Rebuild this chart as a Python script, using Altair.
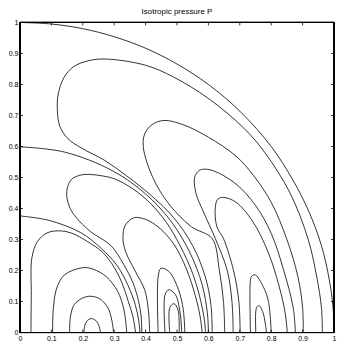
import altair as alt
import pandas as pd

r1_x = [0.0, 0.1, 0.2, 0.3, 0.4, 0.5, 0.6, 0.7, 0.8, 0.87, 0.92, 0.96, 0.985, 0.997, 1.0]
r1_y = [1.0, 0.995, 0.98, 0.954, 0.917, 0.866, 0.8, 0.714, 0.6, 0.49, 0.39, 0.28, 0.17, 0.08, 0.0]

r60_x = [0.0, 0.142, 0.296, 0.40, 0.48, 0.54, 0.58, 0.597, 0.6]
r60_y = [0.599, 0.582, 0.521, 0.447, 0.36, 0.26, 0.155, 0.06, 0.0]

r38_x = [0.0, 0.091, 0.194, 0.26, 0.31, 0.345, 0.367, 0.378, 0.382]
r38_y = [0.376, 0.362, 0.322, 0.27, 0.215, 0.15, 0.09, 0.04, 0.0]

c1_x = [0.204, 0.206, 0.213, 0.227, 0.242, 0.252, 0.256]
c1_y = [0.0, 0.02, 0.037, 0.045, 0.038, 0.02, 0.0]

c2_x = [0.158, 0.161, 0.173, 0.199, 0.226, 0.255, 0.280, 0.293, 0.298]
c2_y = [0.0, 0.053, 0.090, 0.111, 0.117, 0.108, 0.080, 0.037, 0.0]

c3_x = [0.104, 0.106, 0.117, 0.142, 0.199, 0.234, 0.275, 0.311, 0.331, 0.340]
c3_y = [0.0, 0.074, 0.143, 0.186, 0.209, 0.204, 0.180, 0.133, 0.074, 0.0]

c4_x = [0.035, 0.036, 0.038, 0.056, 0.086, 0.122, 0.163, 0.214, 0.265, 0.30, 0.325, 0.345, 0.36, 0.368]
c4_y = [0.0, 0.12, 0.241, 0.294, 0.321, 0.328, 0.321, 0.294, 0.257, 0.21, 0.16, 0.10, 0.05, 0.0]

d1_x = [0.388, 0.386, 0.378, 0.36, 0.33, 0.29, 0.224, 0.18, 0.16, 0.149, 0.152, 0.165, 0.194, 0.213, 0.25, 0.30, 0.36, 0.415, 0.465, 0.51, 0.55, 0.576, 0.588, 0.591]
d1_y = [0.0, 0.05, 0.10, 0.16, 0.22, 0.28, 0.326, 0.37, 0.40, 0.44, 0.47, 0.495, 0.508, 0.51, 0.507, 0.496, 0.463, 0.417, 0.357, 0.28, 0.19, 0.10, 0.035, 0.0]

d2_x = [0.413, 0.41, 0.398, 0.367, 0.336, 0.328, 0.335, 0.362, 0.40, 0.443, 0.49, 0.53, 0.558, 0.574, 0.58]
d2_y = [0.0, 0.06, 0.135, 0.198, 0.262, 0.305, 0.345, 0.37, 0.365, 0.338, 0.285, 0.205, 0.12, 0.05, 0.0]

b1_x = [0.44, 0.44, 0.449, 0.474, 0.505, 0.52, 0.525]
b1_y = [0.0, 0.18, 0.207, 0.197, 0.138, 0.074, 0.0]

b2_x = [0.462, 0.462, 0.474, 0.495, 0.51, 0.515]
b2_y = [0.0, 0.122, 0.138, 0.122, 0.064, 0.0]

b3_x = [0.477, 0.477, 0.49, 0.503, 0.507]
b3_y = [0.0, 0.08, 0.093, 0.074, 0.0]

u1_x = [0.612, 0.608, 0.59, 0.55, 0.49, 0.42, 0.34, 0.27, 0.194, 0.153, 0.127, 0.119, 0.122, 0.14, 0.17, 0.22, 0.275, 0.4, 0.489, 0.6, 0.713, 0.78, 0.86, 0.917, 0.945, 0.96, 0.963]
u1_y = [0.0, 0.09, 0.18, 0.28, 0.37, 0.44, 0.505, 0.555, 0.596, 0.625, 0.665, 0.72, 0.77, 0.822, 0.857, 0.877, 0.882, 0.862, 0.824, 0.755, 0.659, 0.58, 0.45, 0.303, 0.18, 0.08, 0.0]

u2_x = [0.652, 0.648, 0.635, 0.612, 0.546, 0.474, 0.423, 0.393, 0.397, 0.42, 0.459, 0.52, 0.6, 0.688, 0.744, 0.8, 0.85, 0.885, 0.9, 0.902]
u2_y = [0.0, 0.1, 0.2, 0.303, 0.341, 0.415, 0.5, 0.596, 0.64, 0.67, 0.684, 0.67, 0.63, 0.569, 0.506, 0.42, 0.3, 0.18, 0.08, 0.0]

u3_x = [0.679, 0.675, 0.66, 0.622, 0.587, 0.561, 0.556, 0.57, 0.587, 0.62, 0.688, 0.75, 0.8, 0.84, 0.87, 0.877]
u3_y = [0.0, 0.1, 0.2, 0.303, 0.383, 0.447, 0.5, 0.522, 0.527, 0.52, 0.479, 0.41, 0.32, 0.2, 0.08, 0.0]

u4_x = [0.701, 0.697, 0.68, 0.648, 0.627, 0.622, 0.63, 0.648, 0.688, 0.74, 0.79, 0.825, 0.845, 0.851]
u4_y = [0.0, 0.1, 0.2, 0.303, 0.341, 0.404, 0.43, 0.436, 0.42, 0.36, 0.26, 0.15, 0.06, 0.0]

e1_x = [0.734, 0.734, 0.738, 0.749, 0.769, 0.79, 0.80]
e1_y = [0.0, 0.17, 0.182, 0.186, 0.159, 0.106, 0.0]

e2_x = [0.751, 0.751, 0.755, 0.761, 0.774, 0.785]
e2_y = [0.0, 0.069, 0.083, 0.087, 0.064, 0.0]

tick_vals = [0.0, 0.1, 0.2, 0.3, 0.4, 0.5, 0.6, 0.7, 0.8, 0.9, 1.0]

curves = {
    "r1": (r1_x, r1_y), "r60": (r60_x, r60_y), "r38": (r38_x, r38_y),
    "c1": (c1_x, c1_y), "c2": (c2_x, c2_y), "c3": (c3_x, c3_y), "c4": (c4_x, c4_y),
    "d1": (d1_x, d1_y), "d2": (d2_x, d2_y),
    "b1": (b1_x, b1_y), "b2": (b2_x, b2_y), "b3": (b3_x, b3_y),
    "u1": (u1_x, u1_y), "u2": (u2_x, u2_y), "u3": (u3_x, u3_y), "u4": (u4_x, u4_y),
    "e1": (e1_x, e1_y), "e2": (e2_x, e2_y),
}

rows = []
for name, (xs_, ys_) in curves.items():
    for i, (x, y) in enumerate(zip(xs_, ys_)):
        rows.append({"curve": name, "i": i, "x": x, "y": y})
df = pd.DataFrame(rows)
ticks = pd.DataFrame({"t": tick_vals})

W, H = 315, 311
FONT = "Liberation Sans"

xs = alt.Scale(domain=[0, 1], nice=False, zero=False)
ys = alt.Scale(domain=[0, 1], nice=False, zero=False)

axis_common = dict(values=tick_vals, format="~g", ticks=False, domain=False, grid=False,
                   labelFont=FONT, labelFontSize=7, labelColor="black", labelPadding=2,
                   labelOverlap=False, labelFlush=False, title=None)
AX = alt.Axis(**axis_common)

lines = alt.Chart(df).mark_line(color="black", strokeWidth=0.8, interpolate="catmull-rom").encode(
    x=alt.X("x:Q", scale=xs, axis=AX),
    y=alt.Y("y:Q", scale=ys, axis=AX),
    detail="curve:N",
    order="i:Q",
)

tb = alt.Chart(ticks).mark_rule(color="black", strokeWidth=0.8).encode(
    x=alt.X("t:Q", scale=xs, axis=AX), y=alt.value(H), y2=alt.value(H - 3))
tt = alt.Chart(ticks).mark_rule(color="black", strokeWidth=0.8).encode(
    x=alt.X("t:Q", scale=xs, axis=AX), y=alt.value(0), y2=alt.value(3))
tl = alt.Chart(ticks).mark_rule(color="black", strokeWidth=0.8).encode(
    y=alt.Y("t:Q", scale=ys, axis=AX), x=alt.value(0), x2=alt.value(3))
tr = alt.Chart(ticks).mark_rule(color="black", strokeWidth=0.8).encode(
    y=alt.Y("t:Q", scale=ys, axis=AX), x=alt.value(W), x2=alt.value(W - 3))

frame_b = alt.Chart(ticks).mark_rule(color="black", strokeWidth=1).encode(
    x=alt.value(0), x2=alt.value(W), y=alt.value(H))
frame_t = alt.Chart(ticks).mark_rule(color="black", strokeWidth=1).encode(
    x=alt.value(0), x2=alt.value(W), y=alt.value(0))
frame_l = alt.Chart(ticks).mark_rule(color="black", strokeWidth=1).encode(
    y=alt.value(0), y2=alt.value(H), x=alt.value(0))
frame_r = alt.Chart(ticks).mark_rule(color="black", strokeWidth=1).encode(
    y=alt.value(0), y2=alt.value(H), x=alt.value(W))

chart = alt.layer(lines, tb, tt, tl, tr, frame_b, frame_t, frame_l, frame_r).properties(
    width=W, height=H,
    background="white",
    title=alt.TitleParams("Isotropic pressure P", font=FONT, fontSize=8, fontWeight="normal",
                          color="black", offset=2, anchor="middle"),
    padding={"left": 0, "top": 0, "right": 2, "bottom": 0},
).configure_view(stroke=None)

chart.save("out.html", embed_options={"renderer": "svg", "actions": False})
